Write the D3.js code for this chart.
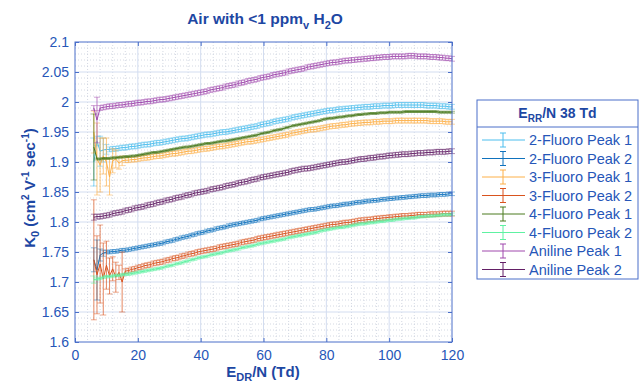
<!DOCTYPE html>
<html><head><meta charset="utf-8">
<script src="https://cdn.jsdelivr.net/npm/d3@7"></script>
<style>body{margin:0;background:#fff}svg{display:block;font-family:Arial,"Liberation Sans",sans-serif}</style>
</head><body><svg id="c" width="639" height="384"></svg>
<script>
// E_DR/N values (Td)
const edrN = d3.range(6, 121);

const seriesNames = ["2-Fluoro Peak 1","2-Fluoro Peak 2","3-Fluoro Peak 1","3-Fluoro Peak 2","4-Fluoro Peak 1","4-Fluoro Peak 2","Aniline Peak 1","Aniline Peak 2"];
const seriesColors = ["#4dbeee","#0f72bd","#fdb048","#d9531e","#4a7a1e","#5ef2a2","#a049ad","#631f66"];

const xTicks = [0,20,40,60,80,100,120];
const yTicks = [1.6,1.65,1.7,1.75,1.8,1.85,1.9,1.95,2,2.05,2.1];
const yTickLabels = ["1.6","1.65","1.7","1.75","1.8","1.85","1.9","1.95","2","2.05","2.1"];

const fluoro2Peak1 = [1.900,1.935,1.918,1.920,1.921,
1.921,1.922,1.922,1.923,1.924,1.924,1.925,1.926,1.926,1.927,
1.928,1.929,1.929,1.930,1.931,1.932,1.932,1.933,1.934,1.935,
1.936,1.937,1.938,1.939,1.939,1.940,1.941,1.942,1.943,1.944,
1.945,1.946,1.946,1.947,1.948,1.949,1.950,1.950,1.951,1.952,
1.953,1.954,1.955,1.956,1.957,1.958,1.959,1.960,1.962,1.963,
1.964,1.965,1.967,1.968,1.969,1.970,1.971,1.972,1.974,1.975,
1.976,1.977,1.978,1.979,1.980,1.981,1.982,1.983,1.984,1.985,
1.986,1.986,1.987,1.988,1.988,1.989,1.989,1.990,1.990,1.991,
1.991,1.992,1.992,1.992,1.993,1.993,1.993,1.994,1.994,1.994,
1.994,1.995,1.995,1.995,1.995,1.995,1.995,1.995,1.995,1.995,
1.995,1.994,1.994,1.994,1.994,1.993,1.993,1.993,1.992,1.992];
const fluoro2Peak1ErrEarly = [0.04,0.008,0.025,0.02,0.008];
const fluoro2Peak1ErrRest = 0.004;

const fluoro2Peak2 = [1.737,1.720,1.745,1.748,1.750,
1.750,1.751,1.751,1.752,1.753,1.753,1.754,1.755,1.756,1.757,
1.758,1.759,1.760,1.761,1.762,1.763,1.764,1.765,1.767,1.768,
1.769,1.771,1.772,1.774,1.775,1.776,1.778,1.779,1.781,1.782,
1.783,1.785,1.786,1.787,1.789,1.790,1.791,1.792,1.794,1.795,
1.796,1.797,1.798,1.799,1.800,1.801,1.802,1.803,1.805,1.806,
1.807,1.808,1.809,1.810,1.811,1.812,1.813,1.814,1.815,1.816,
1.817,1.818,1.819,1.820,1.821,1.821,1.822,1.823,1.824,1.825,
1.826,1.827,1.827,1.828,1.829,1.830,1.830,1.831,1.832,1.833,
1.833,1.834,1.835,1.835,1.836,1.836,1.837,1.838,1.838,1.839,
1.839,1.840,1.840,1.841,1.841,1.842,1.842,1.843,1.843,1.844,
1.844,1.844,1.845,1.845,1.845,1.846,1.846,1.846,1.847,1.847];
const fluoro2Peak2ErrEarly = [0.02,0.05,0.01,0.005];
const fluoro2Peak2ErrRest = 0.003;

const fluoro3Peak1 = [1.950,1.905,1.895,1.910,1.900,
1.875,1.902,1.905,1.898,1.902,1.903,1.903,1.904,1.904,1.905,
1.906,1.907,1.907,1.908,1.909,1.910,1.910,1.911,1.912,1.913,
1.914,1.914,1.915,1.916,1.917,1.918,1.918,1.919,1.920,1.921,
1.922,1.922,1.923,1.924,1.925,1.926,1.926,1.927,1.928,1.929,
1.930,1.931,1.932,1.933,1.934,1.934,1.935,1.936,1.937,1.938,
1.939,1.940,1.941,1.942,1.943,1.944,1.945,1.946,1.948,1.949,
1.950,1.951,1.952,1.953,1.954,1.954,1.955,1.956,1.957,1.958,
1.959,1.960,1.960,1.961,1.962,1.962,1.963,1.964,1.964,1.965,
1.965,1.966,1.966,1.966,1.967,1.967,1.967,1.968,1.968,1.968,
1.968,1.969,1.969,1.969,1.969,1.969,1.969,1.969,1.969,1.969,
1.969,1.969,1.968,1.968,1.968,1.968,1.968,1.967,1.967,1.967];
const fluoro3Peak1ErrEarly = [0.035,0.06,0.045,0.03,0.04,0.03,0.02,0.015,0.01,0.008];
const fluoro3Peak1ErrRest = 0.004;

const fluoro3Peak2 = [1.737,1.712,1.730,1.705,1.728,
1.710,1.722,1.708,1.716,1.700,1.718,1.719,1.721,1.722,1.724,
1.725,1.727,1.728,1.729,1.731,1.732,1.733,1.734,1.736,1.737,
1.739,1.740,1.741,1.743,1.744,1.746,1.747,1.748,1.750,1.751,
1.752,1.753,1.754,1.755,1.756,1.758,1.759,1.760,1.761,1.762,
1.763,1.764,1.766,1.767,1.768,1.769,1.770,1.772,1.773,1.774,
1.775,1.776,1.777,1.778,1.779,1.780,1.781,1.782,1.783,1.784,
1.785,1.786,1.787,1.788,1.789,1.790,1.791,1.792,1.793,1.794,
1.795,1.796,1.796,1.797,1.798,1.799,1.799,1.800,1.801,1.802,
1.803,1.803,1.804,1.804,1.805,1.806,1.806,1.807,1.807,1.808,
1.808,1.809,1.809,1.810,1.810,1.810,1.811,1.811,1.812,1.812,
1.812,1.812,1.813,1.813,1.813,1.813,1.814,1.814,1.814,1.814];
const fluoro3Peak2ErrEarly = [0.10,0.065,0.065,0.06,0.04,0.03,0.02,0.025,0.012,0.05];
const fluoro3Peak2ErrRest = 0.004;

const fluoro4Peak1 = [1.925,1.905,1.905,1.906,1.906,
1.906,1.907,1.907,1.908,1.908,1.909,1.909,1.910,1.910,1.911,
1.912,1.913,1.914,1.915,1.916,1.916,1.917,1.918,1.919,1.920,
1.921,1.922,1.923,1.924,1.925,1.925,1.926,1.927,1.928,1.929,
1.930,1.931,1.931,1.932,1.933,1.934,1.935,1.935,1.936,1.937,
1.938,1.939,1.940,1.941,1.942,1.943,1.944,1.945,1.947,1.948,
1.949,1.950,1.952,1.953,1.954,1.955,1.957,1.958,1.960,1.961,
1.962,1.963,1.964,1.965,1.966,1.967,1.968,1.969,1.971,1.972,
1.973,1.973,1.974,1.975,1.975,1.976,1.977,1.977,1.978,1.979,
1.979,1.980,1.980,1.981,1.981,1.981,1.982,1.982,1.982,1.983,
1.983,1.983,1.983,1.983,1.984,1.984,1.984,1.984,1.984,1.984,
1.984,1.984,1.984,1.984,1.984,1.983,1.983,1.983,1.983,1.983];
const fluoro4Peak1ErrEarly = [0.055];
const fluoro4Peak1ErrRest = 0.0015;

const fluoro4Peak2 = [1.704,1.705,1.706,1.708,1.709,
1.709,1.710,1.711,1.711,1.712,1.713,1.713,1.714,1.715,1.716,
1.717,1.718,1.719,1.720,1.721,1.722,1.723,1.724,1.726,1.727,
1.728,1.730,1.731,1.732,1.734,1.735,1.737,1.738,1.740,1.741,
1.742,1.743,1.745,1.746,1.747,1.748,1.749,1.751,1.752,1.753,
1.754,1.755,1.757,1.758,1.759,1.760,1.761,1.763,1.764,1.765,
1.766,1.767,1.768,1.769,1.770,1.771,1.772,1.774,1.775,1.776,
1.777,1.778,1.779,1.780,1.781,1.782,1.783,1.785,1.786,1.787,
1.788,1.789,1.790,1.791,1.791,1.792,1.793,1.794,1.795,1.796,
1.797,1.797,1.798,1.799,1.799,1.800,1.801,1.801,1.802,1.803,
1.803,1.804,1.805,1.805,1.806,1.806,1.807,1.807,1.808,1.809,
1.809,1.810,1.810,1.810,1.811,1.811,1.812,1.812,1.812,1.813];
const fluoro4Peak2ErrEarly = [0.006];
const fluoro4Peak2ErrRest = 0.002;

const anilinePeak1 = [1.990,1.970,1.990,1.991,1.992,
1.993,1.993,1.994,1.995,1.995,1.996,1.997,1.997,1.998,1.999,
1.999,2.000,2.001,2.001,2.002,2.003,2.004,2.004,2.005,2.006,
2.007,2.008,2.009,2.010,2.011,2.012,2.013,2.014,2.015,2.016,
2.017,2.018,2.020,2.021,2.022,2.023,2.024,2.026,2.027,2.028,
2.029,2.031,2.032,2.033,2.035,2.036,2.037,2.038,2.040,2.041,
2.042,2.043,2.045,2.046,2.047,2.048,2.049,2.051,2.052,2.053,
2.054,2.055,2.056,2.058,2.059,2.060,2.061,2.062,2.063,2.064,
2.065,2.066,2.066,2.067,2.068,2.069,2.069,2.070,2.070,2.071,
2.071,2.072,2.072,2.073,2.073,2.074,2.074,2.075,2.075,2.075,
2.076,2.076,2.076,2.076,2.076,2.077,2.077,2.077,2.076,2.076,
2.076,2.076,2.075,2.075,2.075,2.074,2.074,2.073,2.073,2.072];
const anilinePeak1ErrEarly = [0.004,0.038];
const anilinePeak1ErrRest = 0.004;

const anilinePeak2 = [1.808,1.809,1.809,1.810,1.811,
1.812,1.814,1.815,1.816,1.817,1.819,1.820,1.821,1.823,1.824,
1.825,1.826,1.828,1.829,1.830,1.832,1.833,1.834,1.836,1.837,
1.838,1.840,1.841,1.842,1.844,1.845,1.846,1.848,1.849,1.850,
1.851,1.852,1.854,1.855,1.856,1.857,1.858,1.860,1.861,1.862,
1.863,1.865,1.866,1.867,1.868,1.870,1.871,1.872,1.874,1.875,
1.876,1.877,1.878,1.879,1.880,1.881,1.882,1.883,1.885,1.886,
1.887,1.888,1.889,1.889,1.890,1.891,1.892,1.893,1.894,1.895,
1.896,1.897,1.898,1.899,1.900,1.900,1.901,1.902,1.903,1.904,
1.905,1.905,1.906,1.907,1.907,1.908,1.909,1.909,1.910,1.911,
1.911,1.912,1.912,1.913,1.913,1.913,1.914,1.914,1.915,1.915,
1.915,1.916,1.916,1.916,1.917,1.917,1.917,1.917,1.918,1.918];
const anilinePeak2ErrEarly = [0.005];
const anilinePeak2ErrRest = 0.004;

const seriesValues = [fluoro2Peak1,fluoro2Peak2,fluoro3Peak1,fluoro3Peak2,fluoro4Peak1,fluoro4Peak2,anilinePeak1,anilinePeak2];
const seriesErrEarly = [fluoro2Peak1ErrEarly,fluoro2Peak2ErrEarly,fluoro3Peak1ErrEarly,fluoro3Peak2ErrEarly,fluoro4Peak1ErrEarly,fluoro4Peak2ErrEarly,anilinePeak1ErrEarly,anilinePeak2ErrEarly];
const seriesErrRest = [fluoro2Peak1ErrRest,fluoro2Peak2ErrRest,fluoro3Peak1ErrRest,fluoro3Peak2ErrRest,fluoro4Peak1ErrRest,fluoro4Peak2ErrRest,anilinePeak1ErrRest,anilinePeak2ErrRest];

// ---------- drawing ----------
const svg = d3.select("#c");
const L = 75, R = 452, T = 42, B = 342;
const x = d3.scaleLinear().domain([0,120]).range([L,R]);
const y = d3.scaleLinear().domain([1.6,2.1]).range([B,T]);
const axisCol = "#4a6fc9", textCol = "#2656b8", titleCol = "#1d47a3";

svg.append("rect").attr("width",639).attr("height",384).attr("fill","#fff");
svg.append("rect").attr("x",L).attr("y",T).attr("width",R-L).attr("height",B-T).attr("fill","#fff");

// minor grid
const xMinor = d3.range(0,121,4).filter(v=>v%20!==0);
const yMinor = d3.range(160,211,1).map(v=>v/100).filter(v=>Math.round(v*100)%5!==0);
const g = svg.append("g");
g.selectAll(".xm").data(xMinor).join("line").attr("x1",d=>x(d)).attr("x2",d=>x(d)).attr("y1",T).attr("y2",B)
 .attr("stroke","#c9cfdc").attr("stroke-width",0.8).attr("stroke-dasharray","1,2");
g.selectAll(".ym").data(yMinor).join("line").attr("y1",d=>y(d)).attr("y2",d=>y(d)).attr("x1",L).attr("x2",R)
 .attr("stroke","#c9cfdc").attr("stroke-width",0.8).attr("stroke-dasharray","1,2");
// major grid
g.selectAll(".xg").data(xTicks.slice(1,-1)).join("line").attr("x1",d=>x(d)).attr("x2",d=>x(d)).attr("y1",T).attr("y2",B)
 .attr("stroke","#d3ddf0").attr("stroke-width",1);
g.selectAll(".yg").data(yTicks.slice(1,-1)).join("line").attr("y1",d=>y(d)).attr("y2",d=>y(d)).attr("x1",L).attr("x2",R)
 .attr("stroke","#d3ddf0").attr("stroke-width",1);

// series
const line = d3.line().x((d,i)=>x(edrN[i])).y(d=>y(d));
seriesValues.forEach((vals,k)=>{
  const col = seriesColors[k];
  const errAt = i => i < seriesErrEarly[k].length ? seriesErrEarly[k][i] : seriesErrRest[k];
  const sg = svg.append("g");
  const pts = vals.map((v,i)=>({x:edrN[i], v, e:errAt(i)}));
  sg.selectAll("line.v").data(pts).join("line")
    .attr("x1",d=>x(d.x)).attr("x2",d=>x(d.x)).attr("y1",d=>y(d.v-d.e)).attr("y2",d=>y(d.v+d.e))
    .attr("stroke",col).attr("stroke-width",0.7);
  ["lo","hi"].forEach(s=>{
    sg.selectAll("line."+s).data(pts).join("line")
      .attr("x1",d=>x(d.x)-3).attr("x2",d=>x(d.x)+3)
      .attr("y1",d=>y(s==="lo"?d.v-d.e:d.v+d.e)).attr("y2",d=>y(s==="lo"?d.v-d.e:d.v+d.e))
      .attr("stroke",col).attr("stroke-width",0.6).attr("stroke-opacity",0.85);
  });
  sg.append("path").attr("d",line(vals)).attr("fill","none").attr("stroke",col).attr("stroke-width",1);
});

// axes box
svg.append("rect").attr("x",L).attr("y",T).attr("width",R-L).attr("height",B-T).attr("fill","none").attr("stroke",axisCol).attr("stroke-width",1);
const xAxis = d3.axisBottom(x).tickValues(xTicks).tickSize(-4).tickPadding(8).tickFormat(d3.format("d"));
const xa = svg.append("g").attr("transform",`translate(0,${B})`).call(xAxis);
const yAxis = d3.axisLeft(y).tickValues(yTicks).tickSize(-4).tickPadding(6).tickFormat((d,i)=>yTickLabels[i]);
const ya = svg.append("g").attr("transform",`translate(${L},0)`).call(yAxis);
const xTop = d3.axisTop(x).tickValues(xTicks).tickSize(-4).tickFormat("");
const xt = svg.append("g").attr("transform",`translate(0,${T})`).call(xTop);
const yRight = d3.axisRight(y).tickValues(yTicks).tickSize(-4).tickFormat("");
const yr = svg.append("g").attr("transform",`translate(${R},0)`).call(yRight);
[xa,ya,xt,yr].forEach(a=>{
  a.select(".domain").remove();
  a.selectAll(".tick line").attr("stroke",axisCol);
  a.selectAll(".tick text").attr("fill",textCol).attr("font-size",14).attr("font-family","Arial, 'Liberation Sans', sans-serif");
});

// title
const title = svg.append("text").attr("x",265).attr("y",24).attr("text-anchor","middle")
  .attr("font-size",15.5).attr("font-weight","bold").attr("fill",titleCol);
title.append("tspan").text("Air with <1 ppm");
title.append("tspan").attr("font-size",11).attr("dy",5).text("v");
title.append("tspan").attr("dy",-5).text(" H");
title.append("tspan").attr("font-size",11).attr("dy",5).text("2");
title.append("tspan").attr("dy",-5).text("O");

// y label
const yl = svg.append("text").attr("transform","translate(35,188) rotate(-90)").attr("text-anchor","middle")
  .attr("font-size",15).attr("font-weight","bold").attr("fill",titleCol);
yl.append("tspan").text("K");
yl.append("tspan").attr("font-size",11).attr("dy",4).text("0");
yl.append("tspan").attr("dy",-4).text(" (cm");
yl.append("tspan").attr("font-size",10).attr("dy",-6).text("2");
yl.append("tspan").attr("dy",6).text(" V");
yl.append("tspan").attr("font-size",10).attr("dy",-6).text("-1");
yl.append("tspan").attr("dy",6).text(" sec");
yl.append("tspan").attr("font-size",10).attr("dy",-6).text("-1");
yl.append("tspan").attr("dy",6).text(")");

// x label
const xl = svg.append("text").attr("x",263).attr("y",377).attr("text-anchor","middle")
  .attr("font-size",15).attr("font-weight","bold").attr("fill",titleCol);
xl.append("tspan").text("E");
xl.append("tspan").attr("font-size",11).attr("dy",4).text("DR");
xl.append("tspan").attr("dy",-4).text("/N (Td)");

// legend
const lg = svg.append("g");
const LX = 477, LY = 100, LW = 161, LH = 179;
lg.append("rect").attr("x",LX).attr("y",LY).attr("width",LW).attr("height",LH).attr("fill","#fff").attr("stroke",axisCol).attr("stroke-width",1);
lg.append("line").attr("x1",LX).attr("x2",LX+LW).attr("y1",127).attr("y2",127).attr("stroke",axisCol).attr("stroke-width",1);
const lt = lg.append("text").attr("x",LX+LW/2).attr("y",118).attr("text-anchor","middle")
  .attr("font-size",14).attr("font-weight","bold").attr("fill",titleCol);
lt.append("tspan").text("E");
lt.append("tspan").attr("font-size",10).attr("dy",4).text("RR");
lt.append("tspan").attr("dy",-4).text("/N 38 Td");
const ly = d3.scalePoint().domain(seriesNames).range([140,269.5]);
seriesNames.forEach((n,k)=>{
  const cy = ly(n), col = seriesColors[k];
  lg.append("line").attr("x1",482).attr("x2",525).attr("y1",cy).attr("y2",cy).attr("stroke",col).attr("stroke-width",1);
  lg.append("line").attr("x1",503).attr("x2",503).attr("y1",cy-7).attr("y2",cy+7).attr("stroke",col).attr("stroke-width",1);
  lg.append("line").attr("x1",500).attr("x2",506).attr("y1",cy-7).attr("y2",cy-7).attr("stroke",col).attr("stroke-width",1);
  lg.append("line").attr("x1",500).attr("x2",506).attr("y1",cy+7).attr("y2",cy+7).attr("stroke",col).attr("stroke-width",1);
  lg.append("text").attr("x",529).attr("y",cy+5).attr("font-size",14.5).attr("fill",textCol).text(n);
});
</script></body></html>
